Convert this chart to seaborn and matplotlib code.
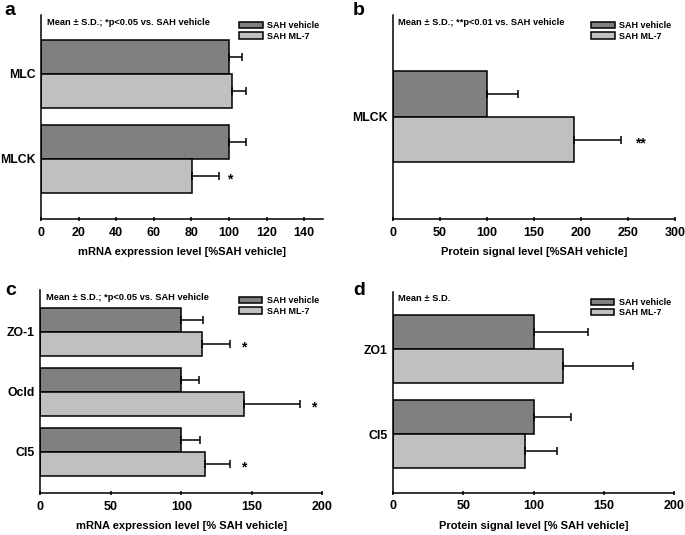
import matplotlib
matplotlib.use("Agg")
import matplotlib.pyplot as plt
from matplotlib.patches import Patch
from matplotlib.container import BarContainer
import seaborn as sns
import pandas as pd

# panel a: mRNA MLC / MLCK
a_genes = ["MLC", "MLCK"]
a_vehicle = [100, 100]
a_vehicle_sd = [7, 9]
a_ml7 = [101.8, 80.2]
a_ml7_sd = [7.2, 14.5]
a_stars = ["", "*"]

# panel b: protein MLCK
b_genes = ["MLCK"]
b_vehicle = [100]
b_vehicle_sd = [33]
b_ml7 = [193]
b_ml7_sd = [50]
b_stars = ["**"]

# panel c: mRNA tight junctions
c_genes = ["ZO-1", "Ocld", "Cl5"]
c_vehicle = [100, 100, 100]
c_vehicle_sd = [15.6, 12.8, 13.3]
c_ml7 = [114.4, 144.2, 116.8]
c_ml7_sd = [20.1, 40.0, 17.7]
c_stars = ["*", "*", "*"]

# panel d: protein tight junctions
d_genes = ["ZO1", "Cl5"]
d_vehicle = [100, 100]
d_vehicle_sd = [38.8, 26.5]
d_ml7 = [120.6, 94.2]
d_ml7_sd = [50.2, 22.5]
d_stars = ["", ""]

groups = ["SAH vehicle", "SAH ML-7"]
colors = ["#808080", "#c0c0c0"]

sns.set_style("ticks")
plt.rcParams["font.family"] = ["Liberation Sans", "DejaVu Sans"]
plt.rcParams["font.weight"] = "bold"
plt.rcParams["axes.linewidth"] = 1.1
for key in ["text.color", "axes.labelcolor", "xtick.color", "ytick.color",
            "axes.edgecolor"]:
    plt.rcParams[key] = "black"


def make_df(genes, veh, ml7):
    return pd.DataFrame({
        "gene": genes * 2,
        "value": veh + ml7,
        "group": [groups[0]] * len(genes) + [groups[1]] * len(genes),
    })


def panel(ax, genes, veh, veh_sd, ml7, ml7_sd, stars, xmax, xticks, ylim,
          xlabel, note, star_off):
    df = make_df(genes, veh, ml7)
    sns.barplot(data=df, x="value", y="gene", hue="group", orient="h",
                hue_order=groups, palette=colors, edgecolor="black",
                linewidth=1.1, width=0.8, errorbar=None, legend=False,
                saturation=1, ax=ax)
    sds = [veh_sd, ml7_sd]
    bars = [c for c in ax.containers if isinstance(c, BarContainer)]
    for k, cont in enumerate(bars):
        for i, bar in enumerate(cont.patches):
            yc = bar.get_y() + bar.get_height() / 2
            xe = bar.get_width()
            ax.errorbar(xe, yc, xerr=[[0], [sds[k][i]]], fmt="none",
                        ecolor="black", elinewidth=1.1, capsize=2.6,
                        capthick=1.1, zorder=1)
            if k == 1 and stars[i]:
                ax.annotate(stars[i], (xe + sds[k][i], yc),
                            xytext=(star_off, -3), textcoords="offset points",
                            ha="center", va="center", fontsize=10,
                            fontweight="bold")
    ax.set_xlim(0, xmax)
    ax.set_xticks(xticks)
    ax.set_ylim(*ylim)
    ax.set_xlabel(xlabel, fontsize=8, fontweight="bold", labelpad=6)
    ax.set_ylabel("")
    ax.tick_params(axis="x", direction="inout", length=3, width=1.1,
                   labelsize=9, pad=4)
    ax.tick_params(axis="y", length=0, labelsize=8.8, pad=4)
    for lab in ax.get_xticklabels() + ax.get_yticklabels():
        lab.set_fontweight("bold")
    sns.despine(ax=ax)
    ax.text(0.02, 0.965, note, transform=ax.transAxes, fontsize=6.7,
            fontweight="bold", va="center", ha="left")
    handles = [Patch(facecolor=c, edgecolor="black", linewidth=1.1, label=g)
               for c, g in zip(colors, groups)]
    ax.legend(handles=handles, loc="upper right", bbox_to_anchor=(1.01, 1.0),
              frameon=False, handlelength=2.6, handleheight=0.7,
              labelspacing=0.15, handletextpad=0.5, borderpad=0.2,
              prop={"weight": "bold", "size": 6.5})


fig = plt.figure(figsize=(6.85, 5.35), dpi=100)
ax_a = fig.add_axes([0.0599, 0.5907, 0.4116, 0.3813])
ax_b = fig.add_axes([0.5733, 0.5907, 0.4121, 0.3813])
ax_c = fig.add_axes([0.0588, 0.0785, 0.4117, 0.3795])
ax_d = fig.add_axes([0.5735, 0.0790, 0.4109, 0.3758])

panel(ax_a, a_genes, a_vehicle, a_vehicle_sd, a_ml7, a_ml7_sd, a_stars,
      150, range(0, 141, 20), (1.71, -0.69),
      "mRNA expression level [%SAH vehicle]",
      "Mean \u00b1 S.D.; *p<0.05 vs. SAH vehicle", 8)
panel(ax_b, b_genes, b_vehicle, b_vehicle_sd, b_ml7, b_ml7_sd, b_stars,
      300, range(0, 301, 50), (0.897, -0.897),
      "Protein signal level [%SAH vehicle]",
      "Mean \u00b1 S.D.; **p<0.01 vs. SAH vehicle", 14)
panel(ax_c, c_genes, c_vehicle, c_vehicle_sd, c_ml7, c_ml7_sd, c_stars,
      200, range(0, 201, 50), (2.69, -0.695),
      "mRNA expression level [% SAH vehicle]",
      "Mean \u00b1 S.D.; *p<0.05 vs. SAH vehicle", 10)
panel(ax_d, d_genes, d_vehicle, d_vehicle_sd, d_ml7, d_ml7_sd, d_stars,
      200, range(0, 201, 50), (1.69, -0.68),
      "Protein signal level [% SAH vehicle]",
      "Mean \u00b1 S.D.", 10)

for lbl, x, y in [("a", 0.007, 0.972), ("b", 0.515, 0.972),
                  ("c", 0.007, 0.449), ("d", 0.516, 0.449)]:
    fig.text(x, y, lbl, fontsize=14, fontweight="bold", va="baseline")

fig.savefig("out.png", dpi=100)
